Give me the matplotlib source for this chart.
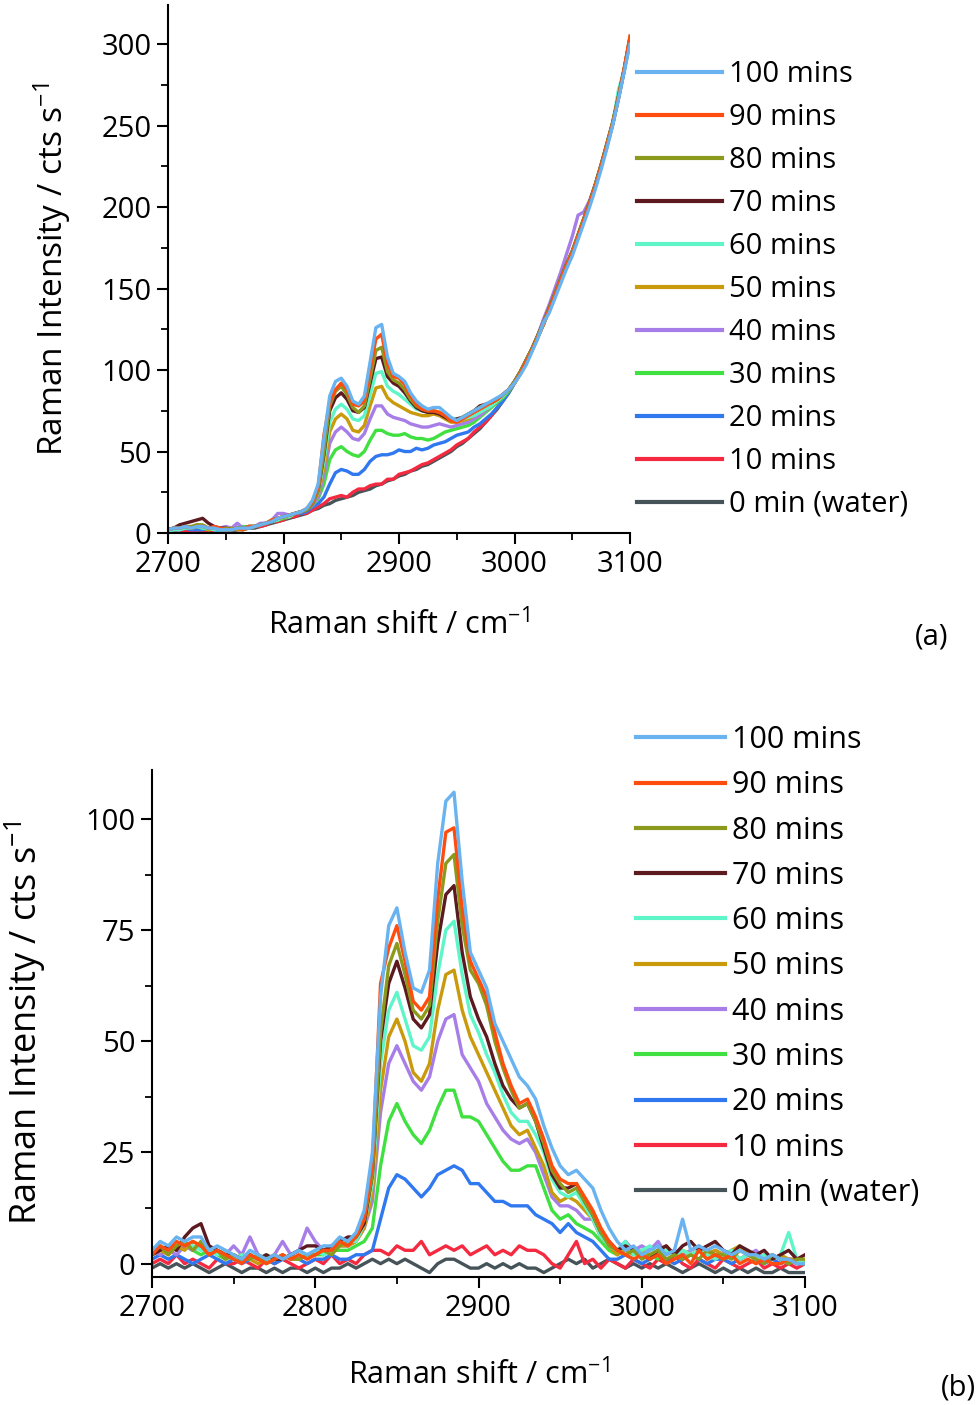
import numpy as np
import matplotlib
matplotlib.use("Agg")
import matplotlib.pyplot as plt

plt.rcParams['font.family'] = ['Open Sans', 'DejaVu Sans']
plt.rcParams['mathtext.fontset'] = 'custom'
plt.rcParams['mathtext.rm'] = 'Open Sans'
plt.rcParams['mathtext.default'] = 'regular'

# Raman shift grid (cm-1), 5 cm-1 step
shift = np.arange(2700, 3101, 5)

labels = ['100 mins', '90 mins', '80 mins', '70 mins', '60 mins', '50 mins',
          '40 mins', '30 mins', '20 mins', '10 mins', '0 min (water)']
colors = ['#68B3F0', '#FF4D10', '#8B9A1C', '#5C1A20', '#5EF5C8', '#C99A0C',
          '#A77DE8', '#3FE040', '#2F78F0', '#F52A40', '#46545A']

# ---------------- (a) raw spectra ----------------
raw_100 = [2, 3, 3, 4, 3, 4, 4, 3, 3, 2,
           2, 2, 3, 3, 3, 4, 5, 6, 7, 9,
           10, 11, 12, 13, 15, 20, 30, 58, 84, 93,
           95, 90, 81, 79, 84, 105, 126, 128, 108, 98,
           96, 93, 86, 81, 78, 76, 77, 77, 74, 71,
           69, 71, 73, 75, 77, 79, 81, 83, 85, 88,
           92, 97, 103, 111, 119, 129, 135, 144, 153, 162,
           170, 180, 190, 200, 211, 223, 236, 250, 266, 283,
           300]
raw_90 = [2, 3, 3, 4, 3, 4, 4, 3, 4, 3,
          2, 2, 3, 2, 4, 4, 5, 6, 8, 9,
          10, 11, 12, 13, 15, 19, 28, 60, 80, 88,
          92, 88, 79, 78, 81, 100, 119, 122, 104, 96,
          95, 91, 84, 79, 76, 75, 75, 74, 72, 69,
          68, 70, 72, 74, 76, 78, 80, 82, 85, 88,
          92, 98, 105, 112, 120, 128, 137, 146, 155, 164,
          172, 182, 192, 202, 213, 225, 238, 251, 267, 285,
          305]
raw_80 = [2, 3, 3, 4, 4, 5, 5, 3, 3, 2,
          3, 2, 3, 3, 4, 4, 5, 6, 8, 9,
          10, 11, 12, 13, 14, 18, 26, 50, 78, 87,
          90, 85, 77, 74, 78, 95, 112, 114, 99, 94,
          92, 88, 82, 78, 76, 75, 75, 74, 72, 69,
          69, 71, 73, 75, 77, 79, 80, 82, 85, 88,
          93, 99, 106, 113, 121, 129, 138, 147, 156, 165,
          173, 183, 193, 203, 214, 226, 239, 252, 268, 285,
          304]
raw_70 = [2, 3, 5, 6, 7, 8, 9, 6, 4, 3,
          3, 2, 3, 3, 4, 4, 5, 6, 7, 9,
          10, 11, 12, 13, 14, 18, 26, 48, 75, 83,
          86, 82, 75, 74, 77, 92, 107, 108, 96, 92,
          90, 86, 81, 77, 75, 74, 74, 73, 71, 69,
          70, 71, 73, 75, 78, 79, 80, 82, 85, 88,
          93, 99, 106, 113, 121, 129, 138, 147, 156, 165,
          173, 183, 193, 203, 214, 226, 239, 252, 268, 285,
          304]
raw_60 = [1, 2, 2, 3, 3, 4, 3, 3, 2, 2,
          2, 2, 3, 3, 4, 4, 5, 6, 7, 8,
          10, 10, 12, 13, 14, 18, 25, 44, 68, 76,
          79, 76, 70, 69, 72, 85, 98, 99, 90, 87,
          85, 82, 79, 76, 75, 74, 75, 74, 72, 70,
          70, 70, 71, 72, 74, 76, 78, 81, 84, 88,
          92, 98, 105, 112, 120, 128, 137, 146, 155, 164,
          172, 182, 192, 202, 213, 225, 238, 251, 272, 284,
          303]
raw_50 = [2, 3, 2, 4, 3, 5, 4, 2, 3, 2,
          2, 3, 2, 2, 4, 4, 5, 6, 7, 8,
          10, 10, 12, 13, 14, 18, 24, 40, 62, 70,
          73, 70, 63, 62, 66, 78, 89, 90, 83, 80,
          78, 76, 74, 73, 72, 72, 73, 72, 70, 68,
          68, 69, 70, 72, 74, 76, 78, 81, 84, 88,
          92, 98, 105, 112, 120, 128, 137, 146, 155, 164,
          172, 182, 192, 202, 213, 225, 238, 251, 267, 284,
          303]
raw_40 = [2, 3, 2, 4, 3, 5, 4, 3, 2, 3,
          4, 3, 6, 3, 3, 4, 6, 6, 8, 12,
          12, 11, 12, 13, 14, 17, 22, 35, 55, 62,
          65, 62, 58, 57, 61, 70, 78, 78, 73, 71,
          70, 69, 67, 66, 65, 65, 66, 67, 66, 65,
          66, 67, 68, 70, 72, 75, 78, 81, 84, 88,
          93, 99, 106, 113, 121, 131, 140, 150, 160, 171,
          182, 195, 197, 204, 214, 226, 238, 251, 267, 284,
          303]
raw_30 = [2, 3, 3, 4, 3, 4, 3, 2, 3, 2,
          3, 2, 3, 4, 3, 4, 5, 6, 7, 8,
          9, 10, 12, 13, 14, 17, 21, 30, 45, 51,
          53, 50, 48, 47, 50, 57, 63, 63, 61, 60,
          60, 61, 59, 58, 58, 57, 58, 60, 62, 63,
          64, 65, 66, 68, 71, 74, 77, 80, 83, 87,
          92, 98, 105, 112, 120, 128, 137, 146, 155, 164,
          172, 182, 192, 202, 213, 225, 238, 251, 267, 284,
          303]
raw_20 = [1, 2, 2, 3, 2, 2, 2, 3, 2, 1,
          2, 1, 3, 3, 3, 4, 5, 6, 7, 8,
          9, 10, 12, 12, 13, 16, 18, 22, 30, 37,
          39, 38, 36, 36, 39, 44, 47, 48, 48, 49,
          51, 50, 50, 52, 51, 52, 54, 55, 56, 58,
          60, 61, 62, 65, 67, 70, 73, 77, 81, 86,
          92, 98, 105, 112, 120, 128, 137, 146, 155, 164,
          172, 182, 192, 202, 213, 225, 238, 251, 267, 284,
          303]
raw_10 = [1, 1, 2, 1, 0, 2, 1, 2, 1, 1,
          1, 2, 2, 3, 3, 4, 4, 5, 7, 7,
          8, 10, 10, 12, 12, 14, 16, 18, 21, 22,
          23, 22, 25, 27, 27, 29, 30, 30, 33, 33,
          36, 37, 38, 40, 42, 43, 45, 47, 49, 51,
          54, 56, 58, 62, 65, 68, 72, 77, 82, 87,
          92, 98, 105, 112, 120, 128, 137, 146, 155, 164,
          172, 182, 192, 202, 213, 225, 238, 251, 267, 284,
          303]
raw_0 = [0, 1, 1, 1, 1, 2, 1, 1, 1, 1,
         1, 1, 2, 2, 3, 3, 4, 5, 6, 7,
         8, 9, 10, 11, 12, 14, 15, 17, 18, 20,
         21, 22, 23, 25, 26, 27, 29, 30, 32, 33,
         35, 36, 38, 39, 41, 42, 44, 46, 48, 50,
         53, 55, 58, 61, 64, 68, 72, 76, 81, 86,
         92, 98, 105, 112, 120, 128, 137, 146, 155, 163,
         172, 182, 192, 202, 213, 225, 237, 251, 267, 284,
         302]

# ---------------- (b) water-subtracted spectra ----------------
sub_100 = [3, 5, 4, 6, 5, 6, 6, 3, 4, 3,
           2, 1, 3, 2, 1, 2, 1, 2, 3, 2,
           3, 4, 4, 6, 5, 7, 12, 25, 60, 76,
           80, 70, 62, 61, 66, 90, 104, 106, 86, 70,
           66, 62, 54, 50, 46, 42, 40, 37, 31, 26,
           22, 20, 21, 19, 17, 12, 8, 5, 3, 4,
           2, 3, 4, 2, 3, 10, 3, 4, 3, 4,
           3, 2, 3, 2, 2, 1, 2, 1, 1, 0,
           0]
sub_90 = [2, 4, 3, 5, 4, 5, 4, 2, 3, 2,
          1, 0, 2, 1, 0, 1, 2, 1, 2, 1,
          2, 3, 3, 5, 4, 6, 10, 22, 63, 71,
          76, 68, 59, 57, 60, 82, 97, 98, 80, 68,
          64, 60, 52, 45, 40, 36, 37, 33, 28, 22,
          19, 18, 18, 15, 12, 8, 5, 3, 2, 1,
          2, 1, 2, 0, 1, 2, 0, 3, 1, 2,
          1, 2, 0, 1, 0, 1, 0, 0, 1, 0,
          0]
sub_80 = [3, 4, 2, 4, 5, 3, 5, 2, 3, 1,
          2, 1, 1, 2, 0, 1, 2, 1, 1, 2,
          2, 3, 2, 4, 5, 6, 10, 20, 52, 67,
          72, 65, 57, 55, 58, 77, 90, 92, 76, 66,
          63, 58, 50, 44, 39, 35, 36, 32, 27, 21,
          18, 16, 17, 14, 11, 7, 4, 3, 2, 3,
          1, 2, 3, 1, 2, 1, 2, 1, 3, 2,
          2, 1, 3, 2, 1, 0, 2, 1, 0, 1,
          1]
sub_70 = [2, 3, 4, 3, 6, 8, 9, 4, 3, 2,
          2, 1, 2, 1, 2, 1, 1, 2, 3, 4,
          4, 3, 4, 5, 6, 6, 9, 20, 50, 63,
          68, 62, 55, 53, 56, 72, 83, 85, 70, 60,
          55, 51, 45, 40, 37, 35, 36, 32, 26, 20,
          17, 17, 18, 14, 11, 7, 5, 3, 4, 3,
          2, 1, 3, 4, 2, 4, 5, 3, 4, 5,
          3, 2, 4, 3, 2, 3, 1, 2, 3, 1,
          2]
sub_60 = [2, 4, 3, 4, 5, 4, 3, 3, 2, 3,
          1, 2, 1, 2, 1, 1, 2, 1, 2, 2,
          3, 2, 3, 4, 5, 5, 9, 18, 45, 57,
          61, 55, 49, 48, 51, 65, 75, 77, 65, 56,
          52, 47, 43, 38, 34, 32, 32, 29, 25, 19,
          16, 15, 16, 13, 10, 6, 4, 3, 5, 2,
          3, 4, 2, 3, 2, 3, 2, 3, 2, 1,
          2, 3, 1, 2, 1, 2, 1, 2, 7, 1,
          0]
sub_50 = [2, 3, 2, 4, 3, 5, 4, 2, 3, 2,
          1, 2, 1, 0, 1, 2, 1, 2, 1, 2,
          2, 3, 3, 4, 4, 5, 8, 16, 39, 51,
          55, 50, 43, 41, 45, 57, 65, 66, 57, 51,
          47, 43, 39, 35, 31, 29, 30, 26, 22, 16,
          14, 15, 14, 12, 10, 6, 4, 2, 3, 2,
          3, 2, 3, 4, 2, 3, 2, 3, 2, 3,
          2, 3, 4, 2, 1, 2, 1, 2, 1, 1,
          0]
sub_40 = [3, 2, 3, 2, 4, 3, 4, 2, 3, 2,
          4, 2, 6, 2, 1, 2, 5, 2, 3, 8,
          5, 3, 3, 4, 4, 5, 8, 14, 34, 45,
          49, 45, 41, 39, 42, 50, 55, 56, 47, 44,
          41, 36, 33, 30, 28, 27, 28, 25, 20, 15,
          13, 13, 12, 10, 10, 6, 4, 3, 5, 3,
          4, 3, 5, 2, 3, 2, 3, 4, 2, 3,
          2, 3, 1, 2, 3, 1, 2, 1, 1, 1,
          0]
sub_30 = [2, 3, 4, 3, 4, 3, 2, 3, 2, 1,
          2, 1, 2, 1, 2, 1, 1, 2, 1, 2,
          2, 2, 3, 3, 3, 4, 5, 8, 22, 32,
          36, 32, 29, 27, 30, 35, 39, 39, 33, 33,
          32, 29, 26, 23, 21, 21, 22, 22, 17, 12,
          10, 11, 9, 8, 7, 5, 3, 2, 4, 2,
          3, 2, 1, 3, 2, 1, 2, 3, 1, 2,
          1, 2, 1, 2, 1, 1, 2, 1, 0, 1,
          0]
sub_20 = [1, 2, 1, 2, 1, 0, 1, 2, 1, 0,
          1, 0, 1, 2, 1, 0, 1, 2, 1, 0,
          1, 1, 2, 1, 1, 2, 2, 3, 10, 17,
          20, 19, 17, 15, 17, 20, 21, 22, 21, 18,
          18, 16, 14, 14, 13, 13, 13, 11, 10, 9,
          7, 9, 7, 6, 5, 3, 1, 1, 2, 1,
          0, 1, 2, 1, 0, 1, 2, 1, 0, 1,
          1, 0, 1, 2, 1, 0, 1, 0, 1, 0,
          0]
sub_10 = [0, 1, 0, 2, 0, 1, 0, -1, 1, 0,
          0, 1, 0, -1, 1, 0, 1, 0, -1, 0,
          1, 0, 2, 0, 1, 0, 2, 3, 3, 2,
          4, 3, 3, 5, 2, 3, 4, 3, 4, 2,
          3, 4, 2, 3, 2, 4, 3, 3, 2, 0,
          -1, 2, 5, 0, 1, -1, 1, 0, -1, 1,
          0, -1, 1, 0, 2, 0, -1, 1, 0, -1,
          1, 0, -1, 0, 1, -1, 0, -1, 0, -1,
          0]
sub_0 = [-1, 0, -1, 0, -1, 0, -1, -2, -1, 0,
         -1, -2, -1, -1, -2, -1, -2, -1, -1, -2,
         -1, -2, -1, -1, 0, -1, 0, 1, 0, 1,
         0, 1, 0, -1, -2, 0, 1, 1, 0, -1,
         -1, 0, -1, 0, -1, 0, -1, -1, -2, -1,
         0, 1, 0, 1, -1, 0, 1, 0, -1, 0,
         -1, 0, -1, 0, -1, -2, -1, 0, -1, -2,
         -1, -2, -1, -2, -1, -2, -2, -1, -2, -2,
         -2]

raw_series = [raw_100, raw_90, raw_80, raw_70, raw_60, raw_50,
              raw_40, raw_30, raw_20, raw_10, raw_0]
sub_series = [sub_100, sub_90, sub_80, sub_70, sub_60, sub_50,
              sub_40, sub_30, sub_20, sub_10, sub_0]


def style_axes(ax):
    # Origin-like axes: only left and bottom spines, ticks pointing out
    ax.spines['top'].set_visible(False)
    ax.spines['right'].set_visible(False)
    for s in ['left', 'bottom']:
        ax.spines[s].set_linewidth(1.5)
    ax.tick_params(which='major', direction='out', length=8, width=1.5, labelsize=21, pad=4)
    ax.tick_params(which='minor', direction='out', length=5, width=1.3)
    ax.set_xlim(2700, 3100)
    ax.set_xticks([2700, 2800, 2900, 3000, 3100])
    ax.set_xticks([2750, 2850, 2950, 3050], minor=True)


def draw_panel(ax, series, yticks, yminor, ylim, lab_size, ylabel_x, xpad,
               leg_anchor, leg_size, leg_spacing):
    # draw 0 min first, 100 mins on top
    lines = []
    for vals, c, lab in reversed(list(zip(series, colors, labels))):
        ln, = ax.plot(shift, vals, color=c, lw=2.4, label=lab, solid_joinstyle='round')
        lines.append(ln)
    lines = lines[::-1]
    style_axes(ax)
    ax.set_ylim(*ylim)
    ax.set_yticks(yticks)
    ax.set_yticks(yminor, minor=True)
    ax.set_xlabel('Raman shift / cm$^{-1}$', fontsize=22, labelpad=xpad)
    ax.set_ylabel('Raman Intensity / cts s$^{-1}$', fontsize=lab_size)
    ax.yaxis.set_label_coords(ylabel_x, 0.5)
    leg = ax.legend(lines, labels, loc='upper left', bbox_to_anchor=leg_anchor,
                    bbox_transform=fig.transFigure, frameon=False, fontsize=leg_size,
                    handlelength=2.9, handletextpad=0.25, labelspacing=leg_spacing,
                    borderaxespad=0, borderpad=0)
    for h in leg.get_lines():
        h.set_linewidth(3)
    return leg


fig = plt.figure(figsize=(9.8, 14.05), dpi=100)

# panel (a)
ax1 = fig.add_axes([168/980, 1 - 533/1405, (630-168)/980, (533-5)/1405])
draw_panel(ax1, raw_series, [0, 50, 100, 150, 200, 250, 300],
           [25, 75, 125, 175, 225, 275], (0, 324), 24, -0.205, 22,
           (637/980, 1 - 60/1405), 21, 0.48)
fig.text(932/980, 1 - 637/1405, '(a)', fontsize=21, ha='center', va='center')

# panel (b)
ax2 = fig.add_axes([152/980, 1 - 1277/1405, (805-152)/980, (1277-770)/1405])
draw_panel(ax2, sub_series, [0, 25, 50, 75, 100],
           [12.5, 37.5, 62.5, 87.5], (-3, 111), 26, -0.16, 26,
           (636/980, 1 - 725/1405), 22, 0.5)
fig.text(958/980, 1 - 1388/1405, '(b)', fontsize=21, ha='center', va='center')

fig.savefig('out.png', dpi=100)
